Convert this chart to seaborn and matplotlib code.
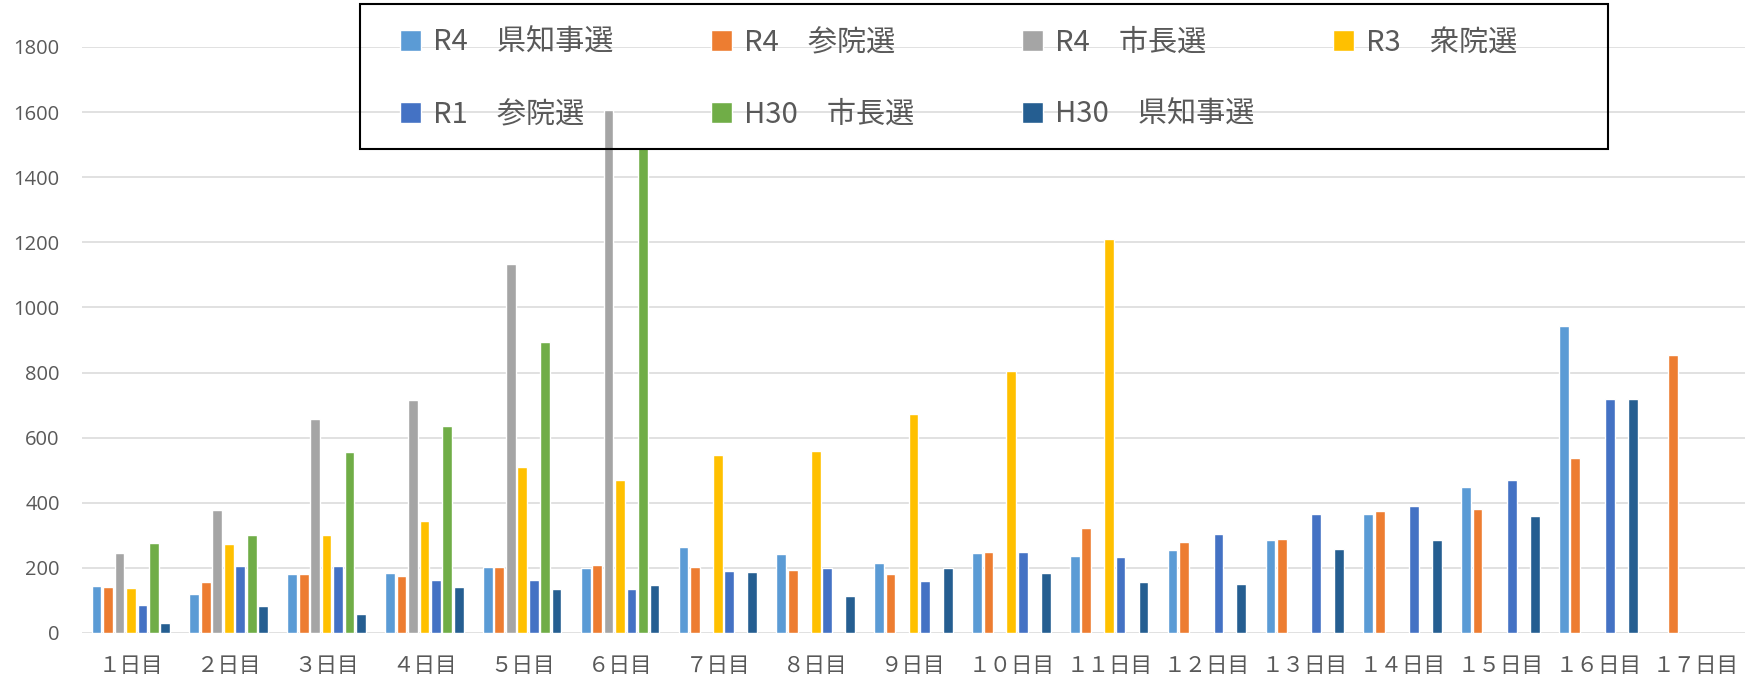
import numpy as np
import pandas as pd
import seaborn as sns
import matplotlib.pyplot as plt
from matplotlib.patches import Rectangle

nan = np.nan

days = ['１日目', '２日目', '３日目', '４日目', '５日目', '６日目', '７日目', '８日目', '９日目',
        '１０日目', '１１日目', '１２日目', '１３日目', '１４日目', '１５日目', '１６日目', '１７日目']

series_names = ['R4　県知事選', 'R4　参院選', 'R4　市長選', 'R3　衆院選',
                'R1　参院選', 'H30　市長選', 'H30　県知事選']

r4_chiji = [145, 121, 180, 184, 204, 200, 265, 243, 216, 246, 238, 255, 287, 367, 449, 942, nan]
r4_sanin = [142, 157, 181, 176, 203, 208, 204, 195, 181, 249, 324, 281, 290, 376, 381, 539, 854]
r4_shicho = [247, 379, 656, 717, 1134, 1605, nan, nan, nan, nan, nan, nan, nan, nan, nan, nan, nan]
r3_shuin = [138, 273, 302, 345, 510, 469, 548, 559, 673, 806, 1210, nan, nan, nan, nan, nan, nan]
r1_sanin = [86, 206, 207, 164, 164, 134, 191, 200, 159, 249, 234, 305, 365, 390, 469, 720, nan]
h30_shicho = [277, 302, 555, 637, 893, 1490, nan, nan, nan, nan, nan, nan, nan, nan, nan, nan, nan]
h30_chiji = [32, 82, 59, 142, 134, 146, 187, 114, 200, 185, 156, 150, 257, 286, 359, 720, nan]

colors = ['#5B9BD5', '#ED7D31', '#A5A5A5', '#FFC000', '#4472C4', '#70AD47', '#255E91']

all_values = [r4_chiji, r4_sanin, r4_shicho, r3_shuin, r1_sanin, h30_shicho, h30_chiji]
rows = []
for name, vals in zip(series_names, all_values):
    for d, v in zip(days, vals):
        rows.append({'day': d, 'series': name, 'value': v})
df = pd.DataFrame(rows).dropna()

sns.set_style('white')
plt.rcParams['font.family'] = ['Noto Sans CJK JP', 'DejaVu Sans']

W, H = 1753, 684
fig = plt.figure(figsize=(W / 100, H / 100), dpi=100)
ax = fig.add_axes([82 / W, 1 - 633 / H, 1663 / W, 586 / H])

sns.barplot(data=df, x='day', y='value', hue='series', order=days, hue_order=series_names,
            palette=colors, saturation=1, errorbar=None, width=0.82, gap=0.15, ax=ax, zorder=3)

ax.set_ylim(0, 1800)
ax.set_xlim(-0.5, len(days) - 0.5)
ax.set_yticks(range(0, 1801, 200))
ax.yaxis.grid(True, color='#D9D9D9', linewidth=1.1, zorder=0)
ax.set_axisbelow(True)
for s in ax.spines.values():
    s.set_visible(False)
ax.set_xlabel('')
ax.set_ylabel('')
ax.tick_params(axis='y', length=0, pad=16, labelsize=14.5, labelcolor='#595959')
ax.tick_params(axis='x', length=0, pad=16, labelsize=15.5, labelcolor='#595959')
for t in ax.get_yticklabels():
    t.set_family('Open Sans')

# legend: 2 rows x 4 columns inside a black box, filled row by row
handles, labels = ax.get_legend_handles_labels()
ax.get_legend().remove()
fig.patches.append(Rectangle((360 / W, 1 - 149 / H), 1248 / W, 145 / H, transform=fig.transFigure,
                             fill=False, edgecolor='black', linewidth=1.5, zorder=10))
col_x = [400, 711, 1022, 1333]
row_y = [43, 115]
for i, (h, lab) in enumerate(zip(handles, labels)):
    r, c = divmod(i, 4)
    fig.legend([h], [lab], loc='center left', bbox_to_anchor=(col_x[c] / W, 1 - row_y[r] / H),
               frameon=False, fontsize=21, labelcolor='#595959', handlelength=0.72,
               handleheight=0.72, handletextpad=0.4, borderpad=0, borderaxespad=0)

fig.savefig('out.png', dpi=100)
